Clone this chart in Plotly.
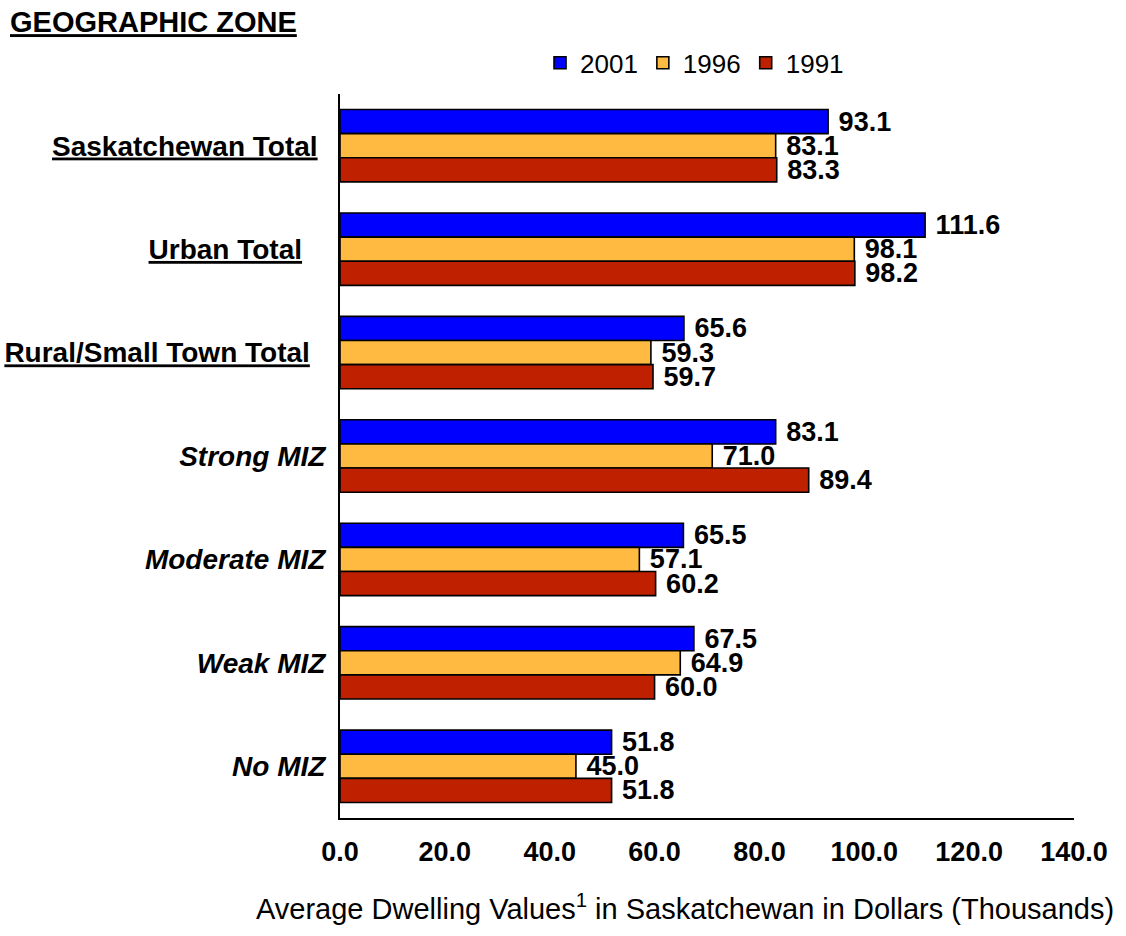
import plotly.graph_objects as go

# Geographic zones, top to bottom
zones = [
    "Saskatchewan Total",
    "Urban Total",
    "Rural/Small Town Total",
    "Strong MIZ",
    "Moderate MIZ",
    "Weak MIZ",
    "No MIZ",
]
# Tick text: totals bold + underlined, MIZ zones bold + italic
zone_labels = [
    "<b><u>Saskatchewan Total</u></b>\u00a0",
    "<b><u>Urban Total</u></b>\u00a0\u00a0\u00a0",
    "<b><u>Rural/Small Town Total</u></b>\u00a0\u00a0",
    "<b><i>Strong MIZ</i></b>",
    "<b><i>Moderate MIZ</i></b>",
    "<b><i>Weak MIZ</i></b>",
    "<b><i>No MIZ</i></b>",
]

# Average dwelling values (thousands of dollars)
values_2001 = [93.1, 111.6, 65.6, 83.1, 65.5, 67.5, 51.8]
values_1996 = [83.1, 98.1, 59.3, 71.0, 57.1, 64.9, 45.0]
values_1991 = [83.3, 98.2, 59.7, 89.4, 60.2, 60.0, 51.8]

x_ticks = [0, 20, 40, 60, 80, 100, 120, 140]

series = [
    ("2001", values_2001, "#0000FF"),
    ("1996", values_1996, "#FFBA42"),
    ("1991", values_1991, "#BE2000"),
]

FONT = "Liberation Sans, Arial, sans-serif"

fig = go.Figure()
for name, vals, color in series:
    fig.add_trace(go.Bar(
        y=zones,
        x=vals,
        name=name,
        orientation="h",
        marker=dict(color=color, line=dict(color="#000000", width=1.6)),
        texttemplate="\u00a0%{x:.1f}",
        textposition="outside",
        constraintext="none",
        cliponaxis=False,
        textfont=dict(family=FONT, size=27, color="#000000", weight="bold"),
    ))

fig.update_layout(
    width=1126,
    height=936,
    autosize=False,
    margin=dict(l=340, r=52, t=94, b=118),
    plot_bgcolor="#FFFFFF",
    paper_bgcolor="#FFFFFF",
    barmode="group",
    bargap=0.30,
    bargroupgap=0,
    font=dict(family=FONT, color="#000000"),
    title=dict(
        text="<b><u>GEOGRAPHIC ZONE</u></b>",
        font=dict(family=FONT, size=29, color="#000000"),
        xref="container", yref="container",
        x=10 / 1126, xanchor="left",
        y=1 - 22 / 936, yanchor="middle",
    ),
    legend=dict(
        orientation="h",
        xref="paper", yref="paper",
        x=0.483, xanchor="center",
        y=1.043, yanchor="middle",
        font=dict(family=FONT, size=26, color="#000000"),
        traceorder="normal",
        itemwidth=30,
        bgcolor="rgba(0,0,0,0)",
    ),
    xaxis=dict(
        range=[0, 140],
        tickvals=x_ticks,
        tickformat=".1f",
        tickfont=dict(family=FONT, size=27, color="#000000", weight="bold"),
        showgrid=False,
        zeroline=False,
        showline=True,
        linecolor="#000000",
        linewidth=2,
        ticks="",
        ticklabelstandoff=9,
        automargin=False,
    ),
    yaxis=dict(
        categoryorder="array",
        categoryarray=zones,
        tickvals=zones,
        ticktext=zone_labels,
        autorange="reversed",
        tickfont=dict(family=FONT, size=28, color="#000000"),
        showgrid=False,
        zeroline=False,
        showline=True,
        linecolor="#000000",
        linewidth=2,
        ticks="",
        ticklabelstandoff=7,
        automargin=False,
    ),
    annotations=[
        dict(
            text="Average Dwelling Values<sup>1</sup> in Saskatchewan in Dollars (Thousands)",
            xref="paper", yref="paper",
            x=(685 - 340) / 734, xanchor="center",
            y=-(907 - 818) / 724, yanchor="middle",
            showarrow=False,
            font=dict(family=FONT, size=29, color="#000000"),
        )
    ],
)

fig.write_html("out.html")
